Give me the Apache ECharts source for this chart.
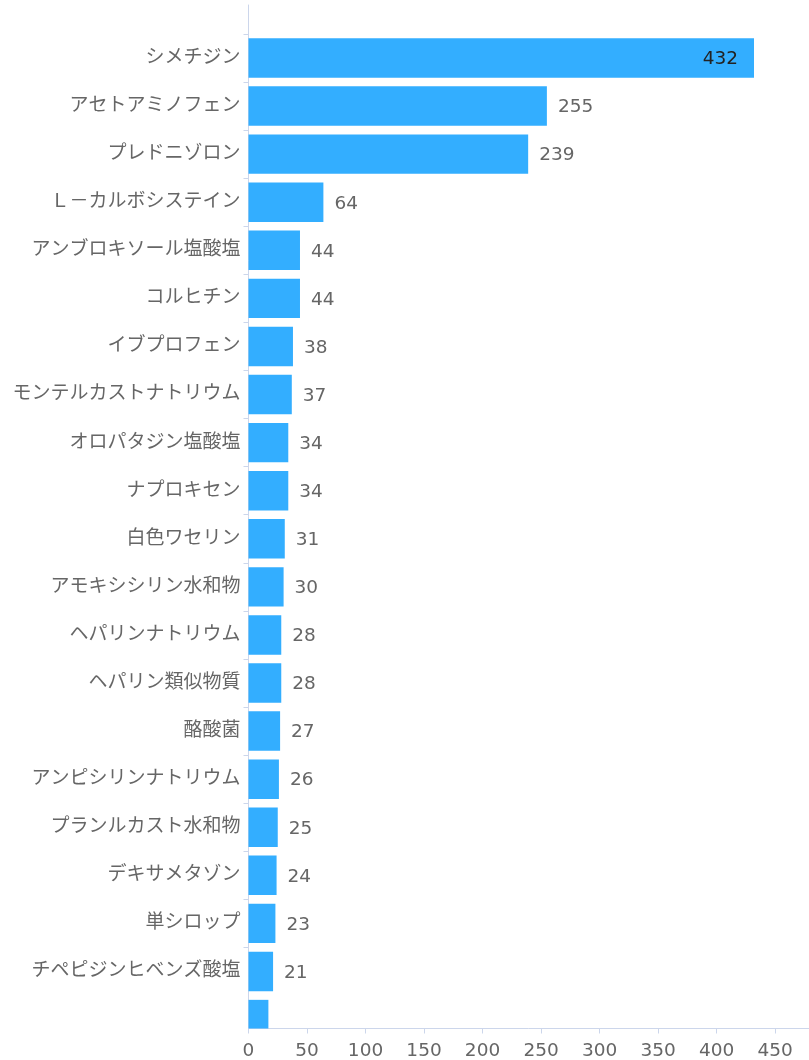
<!DOCTYPE html>
<html>
<head>
<meta charset="utf-8">
<script src="https://cdn.jsdelivr.net/npm/echarts@6/dist/echarts.min.js"></script>
<style>
  html, body { margin: 0; padding: 0; background: #fff; }
  #chart { width: 809px; height: 1060px; }
</style>
</head>
<body>
<div id="chart"></div>
<script>
// Drug names (top to bottom); the last bar's name lies outside the visible window
const CATEGORIES = [
  'シメチジン', 'アセトアミノフェン', 'プレドニゾロン', 'Ｌ－カルボシステイン',
  'アンブロキソール塩酸塩', 'コルヒチン', 'イブプロフェン', 'モンテルカストナトリウム',
  'オロパタジン塩酸塩', 'ナプロキセン', '白色ワセリン', 'アモキシシリン水和物',
  'ヘパリンナトリウム', 'ヘパリン類似物質', '酪酸菌', 'アンピシリンナトリウム',
  'プランルカスト水和物', 'デキサメタゾン', '単シロップ', 'チペピジンヒベンズ酸塩', ''
];
const VALUES = [432, 255, 239, 64, 44, 44, 38, 37, 34, 34, 31, 30, 28, 28, 27, 26, 25, 24, 23, 21, 17];
const X_TICKS = [0, 50, 100, 150, 200, 250, 300, 350, 400, 450];

const BAR_COLOR = '#33aeff';
const AXIS_COLOR = '#ccd6eb';
const TEXT_COLOR = '#666666';
const FONT = "'DejaVu Sans', 'Noto Sans CJK JP', sans-serif";
const BAR_RATIO = 0.82;
const MAX_VALUE = Math.max.apply(null, VALUES);

const labelIdx = CATEGORIES.map((c, i) => i).filter(i => CATEGORIES[i] !== '');
const bandEdges = [];
for (let i = 0; i < CATEGORIES.length - 1; i++) bandEdges.push(i - 0.5);

const chart = echarts.init(document.getElementById('chart'), null, { renderer: 'canvas' });

chart.setOption({
  animation: false,
  grid: { left: 248.5, right: 0, top: 5, bottom: 30 },
  xAxis: {
    type: 'value',
    min: 0,
    max: 479,
    axisLine: { show: true, onZero: false, lineStyle: { color: AXIS_COLOR, width: 1 } },
    axisTick: { show: true, length: 5, customValues: X_TICKS, lineStyle: { color: AXIS_COLOR } },
    axisLabel: { customValues: X_TICKS, color: TEXT_COLOR, fontSize: 18.5, fontFamily: FONT, margin: 13 },
    splitLine: { show: false }
  },
  yAxis: {
    type: 'value',
    inverse: true,
    min: -1.102,
    max: 20.186,
    axisLine: { show: true, onZero: false, lineStyle: { color: AXIS_COLOR, width: 1 } },
    axisTick: { show: true, length: 5, customValues: bandEdges, lineStyle: { color: AXIS_COLOR } },
    axisLabel: {
      customValues: labelIdx,
      formatter: v => CATEGORIES[Math.round(v)],
      color: TEXT_COLOR, fontSize: 19, fontFamily: FONT, margin: 8,
      padding: [5, 0, 0, 0]
    },
    splitLine: { show: false }
  },
  series: [{
    type: 'custom',
    coordinateSystem: 'cartesian2d',
    encode: { x: 0, y: 1 },
    data: VALUES.map((v, i) => [v, i]),
    renderItem: function (params, api) {
      const val = api.value(0);
      const idx = api.value(1);
      const p0 = api.coord([0, idx]);
      const p1 = api.coord([val, idx]);
      const h = api.size([0, BAR_RATIO])[1];
      const cs = params.coordSys;
      const shape = echarts.graphic.clipRectByRect(
        { x: p0[0], y: p0[1] - h / 2, width: p1[0] - p0[0], height: h },
        { x: cs.x, y: cs.y, width: cs.width, height: cs.height }
      );
      if (!shape) return;
      const el = { type: 'rect', shape: shape, style: { fill: BAR_COLOR } };
      if (CATEGORIES[idx] !== '') {
        const inside = val === MAX_VALUE;
        el.textContent = {
          type: 'text',
          style: {
            text: String(val),
            fill: inside ? '#222222' : TEXT_COLOR,
            fontSize: 18.5,
            fontFamily: FONT
          }
        };
        el.textConfig = {
          position: inside ? 'insideRight' : 'right',
          distance: inside ? 16 : 11,
          offset: [0, 1.5]
        };
      }
      return el;
    }
  }]
});
</script>
</body>
</html>
